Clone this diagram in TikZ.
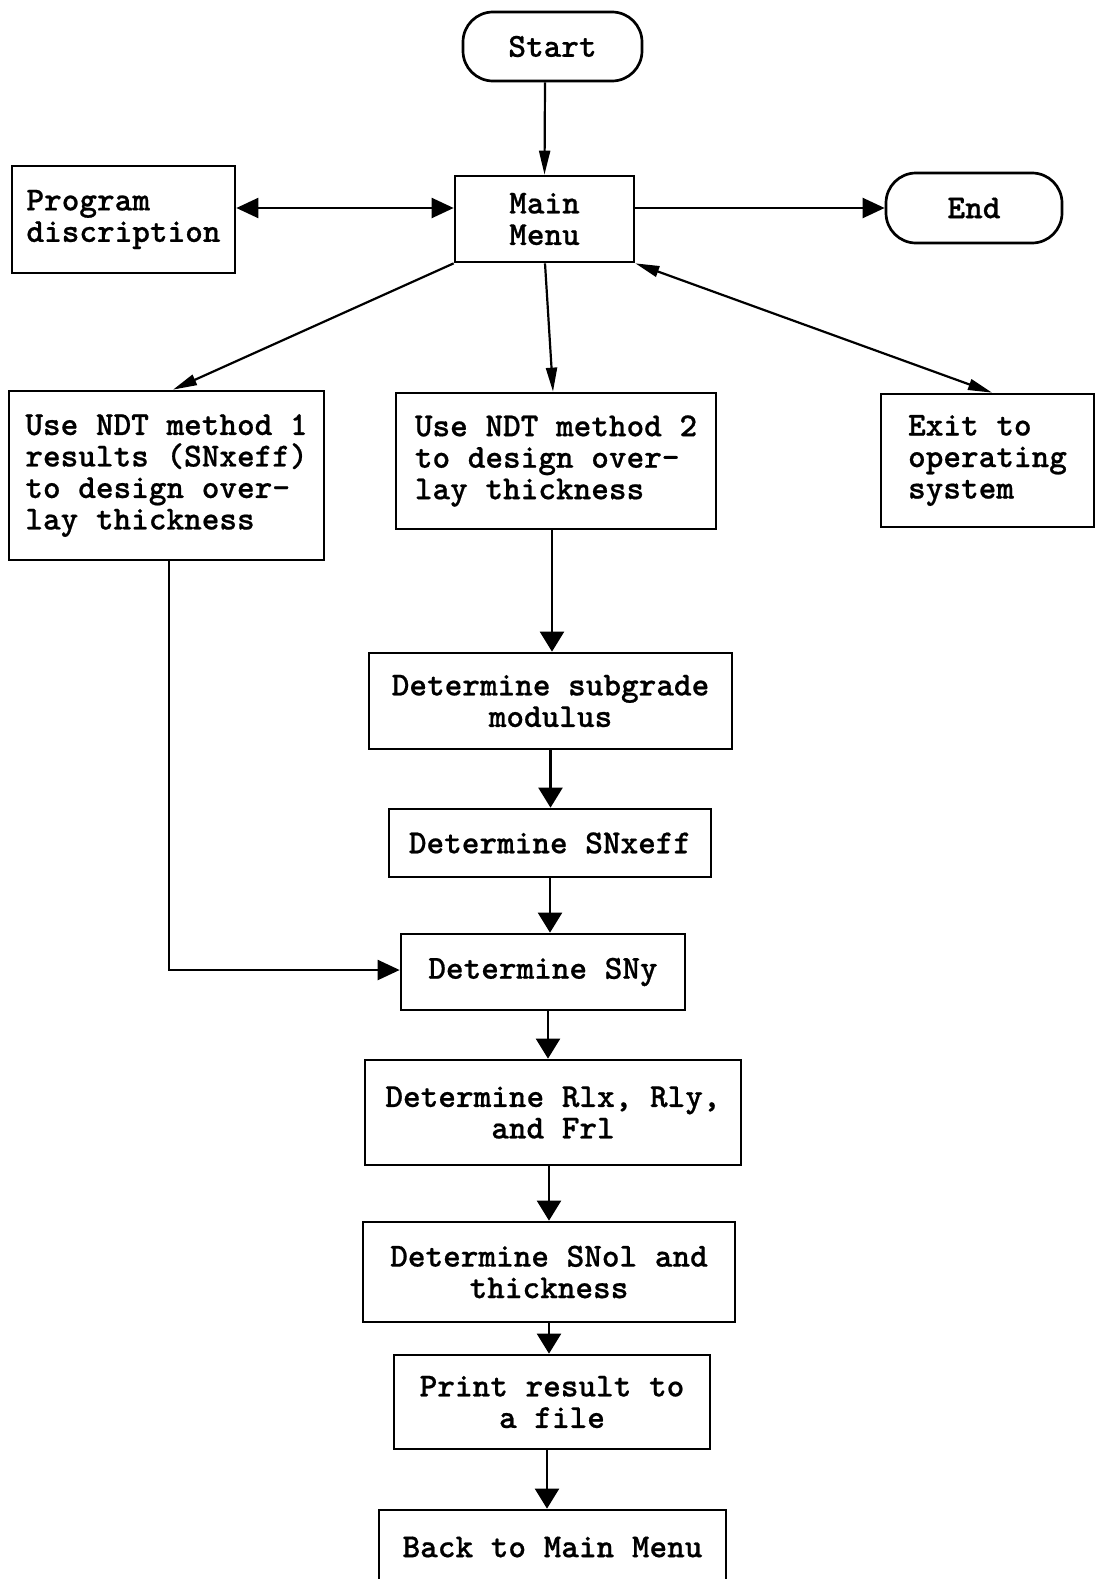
\documentclass[tikz,border=0pt]{standalone}
\usepackage{fontspec}
\newfontfamily\cour{lmmonolt10-bold}[Extension=.otf,FakeBold=0.6]
\usetikzlibrary{arrows.meta}
\begin{document}
\begin{tikzpicture}[x=1pt,y=-1pt,
  box/.style={draw,line width=2.7pt,inner sep=0pt,font=\cour\fontsize{33.6}{31.5}\selectfont},
  lbox/.style={box,align=left},
  cbox/.style={box,align=center},
  term/.style={box,rounded corners=30pt},
  conn/.style={line width=2.2pt},
  bigtip/.style={-{Triangle[length=20pt,width=24pt]}},
  midtip/.style={-{Triangle[length=22pt,width=20pt]}},
  midtips/.style={{Triangle[length=22pt,width=20pt]}-{Triangle[length=22pt,width=20pt]}},
  thintip/.style={-{Triangle[length=24pt,width=11pt]}},
  thintips/.style={{Triangle[length=24pt,width=11pt]}-{Triangle[length=24pt,width=11pt]}}
]
\useasboundingbox (0,0) rectangle (1096,1579);
\fill[white] (0,0) rectangle (1096,1579);

\node[term,minimum width=179pt,minimum height=69pt] (start) at (552.5,46.5) {Start};
\node[cbox,minimum width=179pt,minimum height=86pt] (main) at (544.5,219) {Main\\Menu};
\node[lbox,minimum width=223pt,minimum height=107pt] (prog) at (123.5,219.5) {Program\\discription};
\node[term,minimum width=176pt,minimum height=70pt] (end) at (974,208) {End};
\node[lbox,minimum width=315pt,minimum height=169pt] (m1) at (166.5,475.5) {Use NDT method 1\\results (SNxeff)\\to design over-\\lay thickness};
\node[lbox,minimum width=320pt,minimum height=136pt] (m2) at (556,461) {Use NDT method 2\\to design over-\\lay thickness};
\node[lbox,minimum width=213pt,minimum height=133pt] (exit) at (987.5,460.5) {Exit to\\operating\\system};
\node[cbox,minimum width=363pt,minimum height=96pt] (sub) at (550.5,701) {Determine subgrade\\modulus};
\node[cbox,minimum width=322pt,minimum height=68pt] (snx) at (550,843) {Determine SNxeff};
\node[cbox,minimum width=284pt,minimum height=76pt] (sny) at (543,972) {Determine SNy};
\node[cbox,minimum width=376pt,minimum height=105pt] (rlx) at (553,1112.5) {Determine Rlx, Rly,\\and Frl};
\node[cbox,minimum width=372pt,minimum height=100pt] (snol) at (549,1272) {Determine SNol and\\thickness};
\node[cbox,minimum width=316pt,minimum height=94pt] (print) at (552,1402) {Print result to\\a file};
\node[cbox,minimum width=347pt,minimum height=74pt] (back) at (552.5,1547) {Back to Main Menu};

\draw[conn,thintip] ([xshift=-7.5pt]start.south) -- (main.north);
\draw[conn,midtips] ([yshift=11pt]main.west -| prog.east) -- ([yshift=11pt]main.west);
\draw[conn,midtip] ([yshift=11pt]main.east) -- ([yshift=11pt]main.east -| end.west);
\draw[conn,thintip] (main.south west) -- ([xshift=6.5pt]m1.north);
\draw[conn,thintip] ([xshift=0.5pt]main.south) -- ([xshift=-3pt]m2.north);
\draw[conn,thintips] (main.south east) -- ([xshift=4.5pt]exit.north);
\draw[conn,bigtip] ([xshift=-4pt]m2.south) -- ([xshift=-4pt]m2.south |- sub.north);
\draw[conn,bigtip] (sub.south) -- (sub.south |- snx.north);
\draw[conn,bigtip] (snx.south) -- (snx.south |- sny.north);
\draw[conn,midtip] ([xshift=2.5pt]m1.south) |- ([yshift=2pt]sny.west);
\draw[conn,bigtip] ([xshift=5pt]sny.south) -- ([xshift=5pt]sny.south |- rlx.north);
\draw[conn,bigtip] (snol.north |- rlx.south) -- (snol.north);
\draw[conn,bigtip] (snol.south) -- (snol.south |- print.north);
\draw[conn,bigtip] ([xshift=-5pt]print.south) -- ([xshift=-5pt]print.south |- back.north);
\end{tikzpicture}
\end{document}
